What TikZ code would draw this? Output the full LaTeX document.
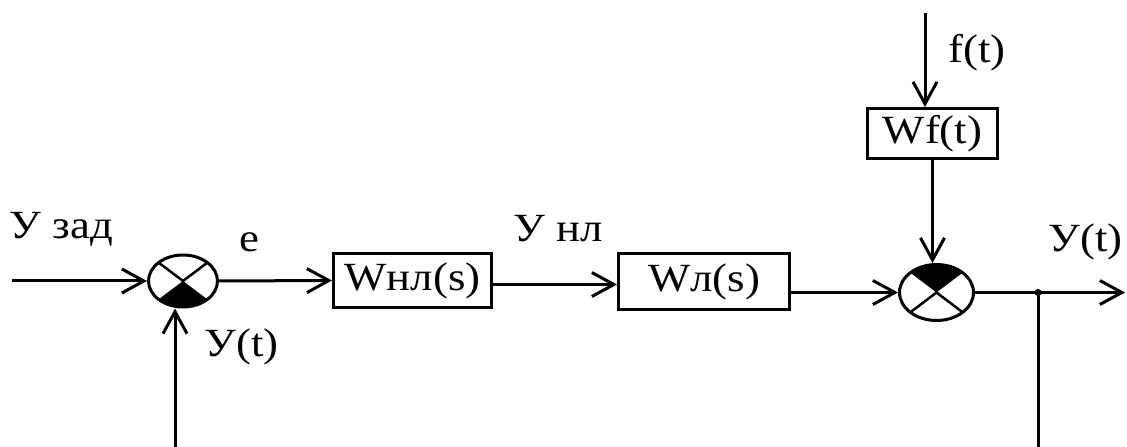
\documentclass[tikz,border=0pt]{standalone}
\usepackage{fontspec}
\setmainfont{Liberation Serif}[FakeStretch=1.12]
\usetikzlibrary{arrows.meta,shapes.geometric}
\begin{document}
\begin{tikzpicture}[x=1pt,y=1pt,
  line width=3pt,
  every node/.style={font=\fontsize{40}{42}\selectfont},
  blk/.style={draw, rectangle, inner sep=0pt, line width=3pt},
  sumn/.style={draw, ellipse, inner sep=0pt, line width=3pt},
  lbl/.style={inner sep=0pt, anchor=base west},
  arr/.style={-{Straight Barb[length=22pt,width=24pt,line width=3pt]}},
  xline/.style={line width=2.5pt},
]
\useasboundingbox (0,0) rectangle (1127,447);

% summing junctions
\node[sumn, minimum width=69pt, minimum height=52pt] (s1) at (183,166) {};
\node[sumn, minimum width=74pt, minimum height=56pt] (s2) at (936.5,154.5) {};

\fill (s1.center) -- ++(-45:34.5 and 26) arc[start angle=-45, end angle=-135, x radius=34.5, y radius=26] -- cycle;
\draw[xline] (s1.center) -- ++(45:34.5 and 26);
\draw[xline] (s1.center) -- ++(135:34.5 and 26);

\fill (s2.center) -- ++(45:37 and 28) arc[start angle=45, end angle=135, x radius=37, y radius=28] -- cycle;
\draw[xline] (s2.center) -- ++(-45:37 and 28);
\draw[xline] (s2.center) -- ++(-135:37 and 28);

% blocks
\node[blk, minimum width=158pt, minimum height=54pt] (wnl) at (412.5,166.5) {Wнл(s)};
\node[blk, minimum width=171pt, minimum height=56pt] (wl) at (704,165.5) {Wл(s)};
\node[blk, minimum width=130pt, minimum height=50pt] (wf) at (932.5,313.5) {Wf(t)};

% coordinates
\coordinate (in) at (12,166);
\coordinate (fb) at (175,0);
\coordinate (ft) at (925,434);
\coordinate (jn) at (1038,154.5);
\coordinate (out) at (1125,154.5);
\coordinate (fbr) at (1038,0);

% connectors
\draw[arr] (in) -- (s1.west);
\draw[arr] (fb) -- (fb |- s1.south);
\draw[arr] (s1.east) -- (wnl.west);
\draw[arr] ([yshift=-4pt]wnl.east) -- ([yshift=-4pt]wnl.east -| wl.west);
\draw[arr] (wl.east |- s2.west) -- (s2.west);
\draw[arr] (ft) -- (ft |- wf.north);
\draw[arr] (wf.south) -- (wf.south |- s2.north);
\draw[arr] (s2.east) -- (out);
\draw (jn) -- (fbr);
\fill (jn) circle (3.5pt);

% labels
\node[lbl] (l1) at (8,208) {У зад};
\node[inner sep=0pt, anchor=base] (l2) at (249,195) {e};
\node[lbl] (l3) at (512,205) {У нл};
\node[lbl] (l4) at (203,90) {У(t)};
\node[lbl] (l5) at (1047,195) {У(t)};
\node[lbl] (l6) at (947,384) {f(t)};
\end{tikzpicture}
\end{document}
